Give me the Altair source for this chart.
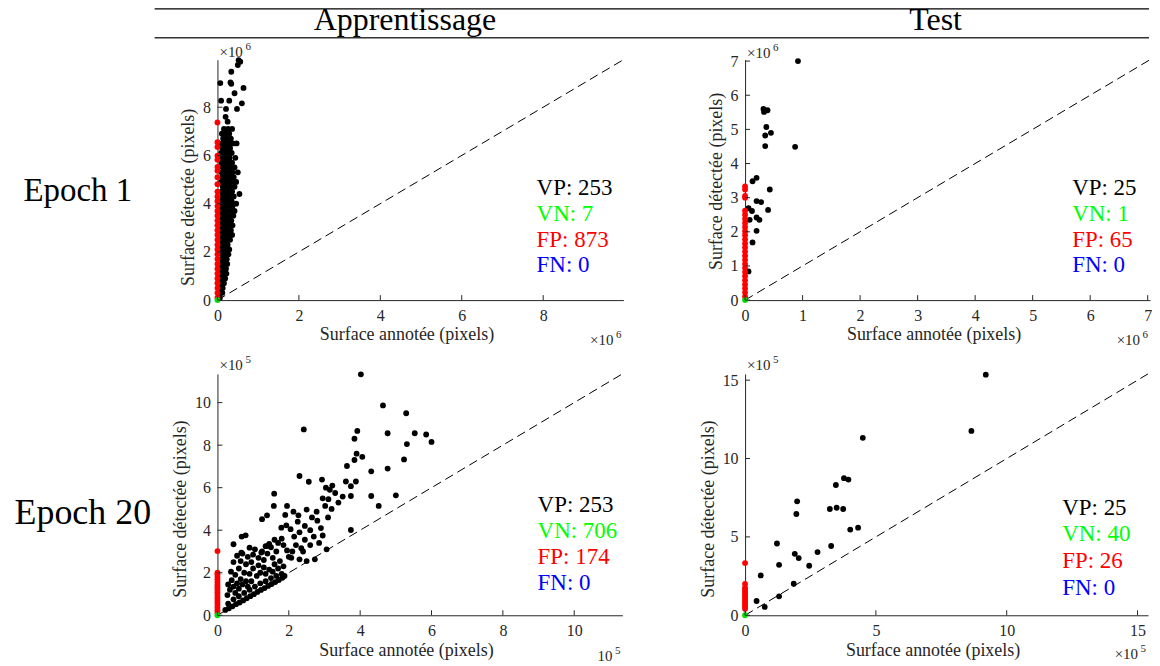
import altair as alt
import pandas as pd

FONT = "Liberation Serif"
AX = "#262626"

# ---------------- data (values in units of the axis exponent) ----------------
COL_TITLES = ["Apprentissage", "Test"]
ROW_TITLES = ["Epoch 1", "Epoch 20"]
ANN_NAMES = ["VP", "VN", "FP", "FN"]
ANN_COLORS = ["#000000", "#00ff00", "#ff0000", "#0000ff"]

TL_COUNTS = [253, 7, 873, 0]
TR_COUNTS = [25, 1, 65, 0]
BL_COUNTS = [253, 706, 174, 0]
BR_COUNTS = [25, 40, 26, 0]

TL_MAX = 9.97
TR_MAX = 7.04
BL_MAX = 11.35
BR_MAX = 15.4

TL_TICKS = [0, 2, 4, 6, 8]
TR_TICKS = [0, 1, 2, 3, 4, 5, 6, 7]
BL_TICKS = [0, 2, 4, 6, 8, 10]
BR_TICKS = [0, 5, 10, 15]

# Epoch 1 / Apprentissage (x10^6)
TL_VP = [
    (0.06, 0.1), (0.08, 0.3), (0.12, 0.3), (0.07, 0.5), (0.13, 0.5), (0.09, 0.7), (0.16, 0.7),
    (0.08, 0.9), (0.14, 0.9), (0.19, 0.9), (0.1, 1.1), (0.17, 1.1), (0.22, 1.1),
    (0.08, 1.3), (0.15, 1.3), (0.21, 1.3), (0.11, 1.5), (0.18, 1.5), (0.24, 1.5),
    (0.09, 1.7), (0.16, 1.7), (0.23, 1.7), (0.12, 1.9), (0.19, 1.9), (0.27, 1.9),
    (0.08, 2.1), (0.15, 2.1), (0.22, 2.1), (0.29, 2.1), (0.11, 2.3), (0.18, 2.3), (0.25, 2.3),
    (0.09, 2.5), (0.16, 2.5), (0.23, 2.5), (0.31, 2.5), (0.12, 2.7), (0.2, 2.7), (0.28, 2.7), (0.36, 2.7),
    (0.08, 2.9), (0.15, 2.9), (0.24, 2.9), (0.33, 2.9), (0.11, 3.1), (0.19, 3.1), (0.27, 3.1), (0.37, 3.1),
    (0.09, 3.3), (0.17, 3.3), (0.25, 3.3), (0.34, 3.3), (0.12, 3.5), (0.2, 3.5), (0.29, 3.5), (0.39, 3.5),
    (0.08, 3.7), (0.16, 3.7), (0.24, 3.7), (0.33, 3.7), (0.42, 3.7),
    (0.11, 3.9), (0.19, 3.9), (0.28, 3.9), (0.37, 3.9),
    (0.09, 4.1), (0.17, 4.1), (0.26, 4.1), (0.35, 4.1), (0.46, 4.0),
    (0.12, 4.3), (0.21, 4.3), (0.3, 4.3), (0.4, 4.3),
    (0.1, 4.5), (0.18, 4.5), (0.27, 4.5), (0.36, 4.5), (0.54, 4.4),
    (0.13, 4.7), (0.22, 4.7), (0.31, 4.7), (0.42, 4.7),
    (0.09, 4.9), (0.17, 4.9), (0.26, 4.9), (0.35, 4.9), (0.46, 4.9),
    (0.12, 5.1), (0.21, 5.1), (0.3, 5.1), (0.4, 5.1),
    (0.1, 5.3), (0.19, 5.3), (0.28, 5.3), (0.37, 5.3), (0.5, 5.3),
    (0.13, 5.5), (0.22, 5.5), (0.32, 5.5), (0.42, 5.5),
    (0.1, 5.7), (0.18, 5.7), (0.27, 5.7), (0.36, 5.7),
    (0.12, 5.9), (0.21, 5.9), (0.3, 5.9), (0.44, 5.9),
    (0.09, 6.1), (0.17, 6.1), (0.26, 6.1), (0.35, 6.1),
    (0.12, 6.3), (0.22, 6.3), (0.31, 6.3), (0.47, 6.5),
    (0.1, 6.5), (0.19, 6.5), (0.28, 6.5), (0.38, 6.5),
    (0.14, 6.7), (0.23, 6.7), (0.33, 6.7), (0.11, 6.9), (0.2, 6.9), (0.29, 6.9),
    (0.16, 7.1), (0.26, 7.1), (0.36, 7.1), (0.25, 7.4), (0.2, 7.6), (0.21, 7.93), (0.48, 7.93),
    (0.6, 8.16), (0.09, 8.27), (0.29, 8.27), (0.42, 8.58), (0.64, 8.8), (0.07, 9.0), (0.32, 9.03),
    (0.34, 8.97), (0.34, 9.47), (0.5, 9.75), (0.56, 9.89), (0.52, 9.95),
]
TL_FP_Y = [0.1, 0.3, 0.5, 0.7, 0.9, 1.1, 1.3, 1.5, 1.7, 1.9, 2.1, 2.3, 2.5, 2.7, 2.9, 3.1, 3.3, 3.5,
           3.7, 3.9, 4.1, 4.3, 4.5, 4.81, 5.1, 5.37, 5.52, 5.82, 5.99, 6.35, 6.55, 7.37]

# Epoch 1 / Test (x10^6)
TR_VP = [
    (0.92, 7.0), (0.32, 5.6), (0.39, 5.56), (0.33, 5.51), (0.37, 5.07), (0.45, 4.9), (0.35, 4.82),
    (0.35, 4.51), (0.87, 4.49), (0.2, 3.58), (0.13, 3.48), (0.43, 3.24), (0.2, 2.9), (0.28, 2.87),
    (0.06, 2.69), (0.4, 2.64), (0.12, 2.61), (0.2, 2.42), (0.25, 2.35), (0.08, 2.35), (0.2, 2.03),
    (0.13, 1.69), (0.06, 0.84),
]
TR_FP_Y = [0.1, 0.22, 0.34, 0.46, 0.58, 0.7, 0.82, 0.94, 1.06, 1.18, 1.3, 1.42, 1.54, 1.66, 1.78,
           1.9, 2.02, 2.14, 2.26, 2.38, 2.5, 2.62, 3.0, 3.05, 3.24, 3.33]

# Epoch 20 / Apprentissage (x10^5)
BL_VP = [
    (0.22, 0.25), (0.32, 0.33), (0.42, 0.42), (0.52, 0.52), (0.62, 0.6), (0.72, 0.7), (0.82, 0.8),
    (0.92, 0.9), (1.02, 0.99), (1.12, 1.1), (1.22, 1.19), (1.32, 1.28), (1.42, 1.38), (1.52, 1.47),
    (1.62, 1.56), (1.72, 1.66), (1.82, 1.76), (1.88, 1.85),
    (0.3, 0.55), (0.45, 0.75), (0.6, 0.9), (0.75, 1.05), (0.9, 1.2), (1.05, 1.35), (1.2, 1.5),
    (1.35, 1.6), (1.5, 1.75), (1.65, 1.85), (1.8, 1.95),
    (0.28, 0.95), (0.35, 1.2), (0.3, 1.45), (0.4, 1.65), (0.45, 1.35), (0.5, 1.05), (0.55, 1.5),
    (0.6, 1.25), (0.38, 2.05), (0.5, 1.9), (0.65, 1.7), (0.7, 1.45), (0.8, 1.6), (0.75, 2.0),
    (0.85, 1.35), (0.95, 1.6), (0.9, 1.95), (1.0, 2.2), (1.1, 1.85), (1.2, 2.0), (1.15, 2.35),
    (1.3, 2.25), (1.35, 1.95), (1.45, 2.15), (1.55, 2.05), (1.6, 2.4), (1.7, 2.2), (1.75, 2.55),
    (1.85, 2.3), (0.45, 2.5), (0.55, 2.8), (0.6, 2.2), (0.65, 2.55), (0.7, 2.9), (0.8, 2.4),
    (0.85, 2.75), (0.95, 2.5), (1.0, 2.85), (1.05, 3.1), (1.15, 2.7), (1.25, 3.0), (1.3, 2.6),
    (1.4, 2.9), (1.5, 3.2), (1.55, 2.7), (1.65, 3.0), (1.7, 3.4), (1.8, 3.6), (1.85, 3.3),
    (1.95, 3.05), (2.0, 2.75), (1.6, 3.55), (1.45, 3.35), (1.35, 3.25), (0.45, 3.34), (0.68, 3.7),
    (0.79, 3.76), (0.9, 3.18), (0.67, 2.95), (1.23, 2.95), (1.42, 3.27), (1.25, 4.52), (1.39, 4.7),
    (1.59, 5.72), (1.58, 5.14), (1.95, 5.14), (1.93, 4.23), (1.79, 4.12), (1.9, 4.72), (2.13, 4.87),
    (2.27, 4.7), (2.5, 4.97), (2.78, 4.87), (3.02, 5.14), (3.39, 5.3), (3.11, 5.46), (2.07, 2.7),
    (2.3, 2.63), (2.5, 2.55), (2.73, 2.63), (3.06, 3.1), (2.1, 3.0), (2.2, 3.3), (2.35, 3.15),
    (2.45, 3.55), (2.6, 3.3), (2.15, 3.7), (2.3, 3.9), (2.45, 4.2), (2.6, 4.0), (2.7, 3.7),
    (2.8, 4.45), (2.9, 4.1), (2.25, 4.4), (2.05, 4.05), (2.4, 3.0), (2.65, 4.6), (2.85, 3.4),
    (2.95, 3.75), (3.1, 4.6), (3.2, 5.0), (2.95, 5.5), (3.15, 5.9), (3.3, 5.75), (2.3, 6.55),
    (2.56, 6.28), (2.93, 6.38), (3.04, 6.0), (3.22, 6.1), (3.6, 6.29), (3.88, 6.29), (3.74, 6.07),
    (3.74, 5.61), (3.51, 5.58), (4.31, 5.61), (5.0, 5.64), (4.52, 5.14), (3.74, 4.01), (3.63, 7.02),
    (3.84, 7.3), (3.9, 7.6), (4.06, 7.45), (3.84, 8.3), (3.92, 8.67), (4.77, 6.9), (4.31, 6.77),
    (5.23, 7.33), (5.31, 8.05), (6.0, 8.15), (5.85, 8.5), (5.53, 8.56), (4.77, 8.56), (2.42, 8.74),
    (4.64, 9.87), (5.29, 9.5), (4.02, 11.33),
]
BL_FP_Y = [0.12, 0.24, 0.36, 0.48, 0.6, 0.72, 0.84, 0.96, 1.08, 1.2, 1.32, 1.44, 1.56, 1.68,
           1.8, 1.92, 2.0, 3.02]

# Epoch 20 / Test (x10^5)
BR_VP = [
    (9.2, 15.35), (8.65, 11.76), (4.5, 11.32), (3.78, 8.75), (3.95, 8.66), (3.47, 8.31),
    (1.99, 7.27), (1.96, 6.46), (3.24, 6.78), (3.5, 6.86), (3.75, 6.78), (4.02, 5.47),
    (4.32, 5.59), (1.22, 4.58), (3.29, 4.42), (2.77, 4.03), (1.9, 3.92), (2.05, 3.65),
    (1.3, 3.22), (2.45, 3.16), (0.6, 2.54), (1.86, 2.01), (1.3, 1.21), (0.44, 0.91), (0.75, 0.53),
]
BR_FP_Y = [0.42, 0.55, 0.68, 0.8, 0.93, 1.05, 1.18, 1.3, 1.43, 1.55, 1.68, 1.75, 2.0, 3.33]

VN_POINT = [(0.0, 0.0)]

PT = 34  # marker area


# ---------------- chart building ----------------
def text_layer(txt, **kw):
    return alt.Chart(pd.DataFrame({"t": [txt]})).mark_text(font=FONT, **kw).encode(text="t:N")


def panel(vp, fp_y, maxv, ticks, counts, exp, w, h, ann_x, ann_y, ann_dy, title_dy,
          top_exp_y, bot_exp_y, bot_times=True):
    xs = alt.Scale(domain=[0, maxv], nice=False, zero=False)
    ys = alt.Scale(domain=[0, maxv], nice=False, zero=False)
    xax = alt.Axis(values=ticks, format="d", title="Surface annotée (pixels)",
                   titleX=w / 2 - 14, labelPadding=7, titlePadding=3)
    yax = alt.Axis(values=ticks, format="d", title="Surface détectée (pixels)",
                   titleY=h / 2 + title_dy, labelPadding=7, titlePadding=5)

    vp_df = pd.DataFrame(vp, columns=["x", "y"])
    fp_df = pd.DataFrame({"x": [0.0 for _ in fp_y], "y": fp_y})
    vn_df = pd.DataFrame(VN_POINT, columns=["x", "y"])
    diag_df = pd.DataFrame({"x": [0, maxv], "y": [0, maxv]})
    tick_df = pd.DataFrame({"x": ticks, "y": ticks})

    X = alt.X("x:Q", scale=xs, axis=xax)
    Y = alt.Y("y:Q", scale=ys, axis=yax)

    black = alt.Chart(vp_df).mark_circle(color="black", size=PT, opacity=1).encode(x=X, y=Y)
    diag = alt.Chart(diag_df).mark_line(color="black", strokeWidth=1, strokeDash=[9, 5]).encode(x=X, y=Y)
    red = alt.Chart(fp_df).mark_circle(color="#ff0000", size=PT, opacity=1).encode(x=X, y=Y)
    green = alt.Chart(vn_df).mark_circle(color="#00e000", size=PT, opacity=1).encode(x=X, y=Y)
    xticks = alt.Chart(tick_df).mark_rule(color=AX, strokeWidth=1).encode(
        x=X, y=alt.value(h), y2=alt.value(h - 5))
    yticks = alt.Chart(tick_df).mark_rule(color=AX, strokeWidth=1).encode(
        y=Y, x=alt.value(0), x2=alt.value(5))

    layers = [black, diag, red, green, xticks, yticks]
    for i, (name, cnt, col) in enumerate(zip(ANN_NAMES, counts, ANN_COLORS)):
        layers.append(text_layer(f"{name}: {cnt}", align="left", baseline="middle",
                                 fontSize=23, color=col).encode(
            x=alt.value(ann_x), y=alt.value(ann_y + i * ann_dy)))

    # exponent labels
    layers.append(text_layer("×10", align="left", baseline="middle", fontSize=15, color=AX)
                  .encode(x=alt.value(2), y=alt.value(top_exp_y)))
    layers.append(text_layer(exp, align="left", baseline="middle", fontSize=11, color=AX)
                  .encode(x=alt.value(28), y=alt.value(top_exp_y - 5)))
    layers.append(text_layer("×10" if bot_times else "10", align="right", baseline="middle",
                             fontSize=15, color=AX)
                  .encode(x=alt.value(w - 10), y=alt.value(bot_exp_y)))
    layers.append(text_layer(exp, align="right", baseline="middle", fontSize=11, color=AX)
                  .encode(x=alt.value(w - 2), y=alt.value(bot_exp_y - 5)))

    return alt.layer(*layers).properties(width=w, height=h)


p1 = panel(TL_VP, TL_FP_Y, TL_MAX, TL_TICKS, TL_COUNTS, "6", 407, 241,
           320, 129, 25.7, 17, -8, 281)
p2 = panel(TR_VP, TR_FP_Y, TR_MAX, TR_TICKS, TR_COUNTS, "6", 406, 241,
           328, 129, 25.7, 1, -7, 281)
p3 = panel(BL_VP, BL_FP_Y, BL_MAX, BL_TICKS, BL_COUNTS, "5", 406, 242,
           321, 131, 26.3, 14, -9, 283, bot_times=False)
p4 = panel(BR_VP, BR_FP_Y, BR_MAX, BR_TICKS, BR_COUNTS, "5", 404, 242,
           318, 134, 27, 14, -9, 281)


def row_label(txt, w, h, cx, base_y, size, extra=()):
    lab = text_layer(txt, align="center", baseline="alphabetic", fontSize=size, color="black") \
        .encode(x=alt.value(cx), y=alt.value(base_y))
    return alt.layer(lab, *extra).properties(width=w, height=h)


# column header (drawn above the first row, in the first cell's coordinates)
line_df = pd.DataFrame({"k": ["top", "bottom"]})
hdr_top = alt.Chart(line_df.iloc[:1]).mark_rule(color="black", strokeWidth=1.2).encode(
    x=alt.value(147), x2=alt.value(1144), y=alt.value(-51))
hdr_bot = alt.Chart(line_df.iloc[1:]).mark_rule(color="#333333", strokeWidth=1.6).encode(
    x=alt.value(147), x2=alt.value(1144), y=alt.value(-22))
hdr_t1 = text_layer(COL_TITLES[0], align="center", baseline="alphabetic", fontSize=32,
                    color="black").encode(x=alt.value(398), y=alt.value(-30))
hdr_t2 = text_layer(COL_TITLES[1], align="center", baseline="alphabetic", fontSize=32,
                    color="black").encode(x=alt.value(930), y=alt.value(-30))

lab1 = row_label(ROW_TITLES[0], 88, 241, 70, 142, 33, (hdr_top, hdr_bot, hdr_t1, hdr_t2))
lab2 = row_label(ROW_TITLES[1], 88, 242, 75, 150, 36)

chart = alt.concat(
    lab1, p1, p2, lab2, p3, p4,
    columns=3, spacing={"row": 74, "column": 122}, bounds="flush",
    padding={"top": -5, "left": 0, "right": 0, "bottom": 0},
).configure_view(
    stroke=None
).configure_axis(
    labelFont=FONT, titleFont=FONT, labelFontSize=16, titleFontSize=18,
    labelColor=AX, titleColor=AX, domainColor=AX, domainWidth=1,
    grid=False, ticks=False, titleFontWeight="normal", labelFlush=False,
)

chart.save("out.html", embed_options={"renderer": "svg", "actions": False})
